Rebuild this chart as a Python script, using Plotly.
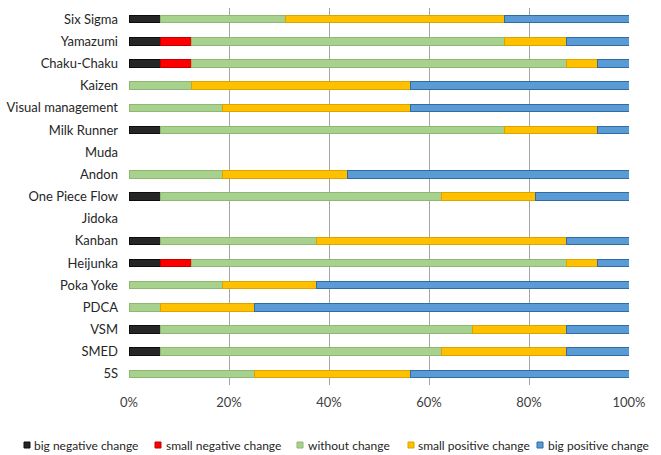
import plotly.graph_objects as go

# Lean tools, listed top to bottom
tools = ["Six Sigma", "Yamazumi", "Chaku-Chaku", "Kaizen", "Visual management",
         "Milk Runner", "Muda", "Andon", "One Piece Flow", "Jidoka", "Kanban",
         "Heijunka", "Poka Yoke", "PDCA", "VSM", "SMED", "5S"]

# Share of answers (%) per category of change
big_negative   = [6.25, 6.25, 6.25, 0, 0, 6.25, 0, 0, 6.25, 0, 6.25, 6.25, 0, 0, 6.25, 6.25, 0]
small_negative = [0, 6.25, 6.25, 0, 0, 0, 0, 0, 0, 0, 0, 6.25, 0, 0, 0, 0, 0]
without_change = [25, 62.5, 75, 12.5, 18.75, 68.75, 0, 18.75, 56.25, 0, 31.25, 75, 18.75, 6.25, 62.5, 56.25, 25]
small_positive = [43.75, 12.5, 6.25, 43.75, 37.5, 18.75, 0, 25, 18.75, 0, 50, 6.25, 18.75, 18.75, 18.75, 25, 31.25]
big_positive   = [25, 12.5, 6.25, 43.75, 43.75, 6.25, 0, 56.25, 18.75, 0, 12.5, 6.25, 62.5, 75, 12.5, 12.5, 43.75]

x_ticks = [0, 20, 40, 60, 80, 100]
x_tick_labels = ["0%", "20%", "40%", "60%", "80%", "100%"]

series_names = ["big negative change", "small negative change", "without change",
                "small positive change", "big positive change"]
series_values = [big_negative, small_negative, without_change, small_positive, big_positive]
fills = ["#262626", "#ff0000", "#a9d18e", "#ffc000", "#5b9bd5"]
edges = ["#0d0d0d", "#c00000", "#8cb873", "#d9a300", "#2e6da4"]

W, H = 661, 455
M_L, M_R, M_T, M_B = 129, 32, 8, 70
plot_w = W - M_L - M_R
plot_h = H - M_T - M_B

FONT = "Lato, 'Noto Sans', sans-serif"

fig = go.Figure()
for name, vals, fill, edge in zip(series_names, series_values, fills, edges):
    # empty segments are left out so their outlines do not show as slivers
    shown = [v if v > 0 else None for v in vals]
    fig.add_trace(go.Bar(
        name=name, y=tools, x=shown, orientation="h",
        marker=dict(color=fill, line=dict(color=edge, width=1)),
        showlegend=False,
    ))

# Legend row along the bottom: small square swatch followed by its label
swatch_left = [24, 155, 297, 408, 537]
label_left = [32, 164, 306, 416, 546]
legend_y = 445
sw = 6


def px_x(px):
    return (px - M_L) / plot_w


def px_y(py):
    return (H - M_B - py) / plot_h


for name, fill, edge, sx, tx in zip(series_names, fills, edges, swatch_left, label_left):
    fig.add_shape(
        type="rect", xref="paper", yref="paper",
        x0=px_x(sx), x1=px_x(sx + sw),
        y0=px_y(legend_y + sw / 2), y1=px_y(legend_y - sw / 2),
        fillcolor=fill, line=dict(color=edge, width=1),
    )
    fig.add_annotation(
        xref="paper", yref="paper", x=px_x(tx), y=px_y(legend_y),
        xanchor="left", yanchor="middle", text=name, showarrow=False,
        font=dict(family=FONT, size=12, color="#262626"),
    )

fig.update_layout(
    barmode="stack",
    bargap=0.66,
    width=W, height=H,
    margin=dict(l=M_L, r=M_R, t=M_T, b=M_B),
    paper_bgcolor="white", plot_bgcolor="white",
    font=dict(family=FONT, size=13, color="#262626"),
    showlegend=False,
    xaxis=dict(
        range=[0, 100], tickvals=x_ticks, ticktext=x_tick_labels,
        showgrid=True, gridcolor="#a6a6a6", gridwidth=1,
        zeroline=False, showline=False, ticks="", ticklabelstandoff=8,
        tickfont=dict(family=FONT, size=13, color="#404040"),
    ),
    yaxis=dict(
        categoryorder="array", categoryarray=tools[::-1],
        showgrid=False, showline=False, ticks="", ticklabelstandoff=10,
        tickfont=dict(family=FONT, size=13, color="#262626"),
    ),
)

fig.write_html("out.html")
